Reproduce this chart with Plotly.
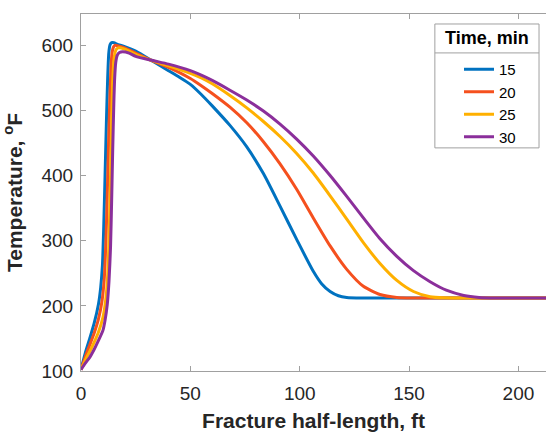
import plotly.graph_objects as go

# ---- data ----
x15 = [0, 2, 4, 6, 8, 9, 9.8, 10.4, 11, 11.6, 12.2, 12.7, 13.3, 14, 15, 17, 20, 25, 33, 40, 45, 50, 55, 60, 68.1, 75.8, 83.4, 91, 98.6, 106.2, 110, 113.9, 117.7, 121.5, 129, 150, 180, 215]
y15 = [102, 128, 150, 173, 203, 228, 262, 322, 400, 480, 550, 588, 601, 604, 604, 601, 598, 591, 575, 561, 551, 540, 524.5, 507, 477, 444, 403, 353, 302, 253, 234, 222, 215.5, 213, 212.2, 212, 212, 212]

x20 = [0, 2, 4, 6, 8, 9.5, 10.6, 11.4, 12, 12.6, 13.2, 13.7, 14.2, 14.8, 15.6, 17, 20, 25, 33, 40, 50, 55, 60, 68.1, 75.8, 83.4, 91, 98.6, 106.2, 113.9, 121.5, 129.1, 136.7, 144.4, 152, 180, 215]
y20 = [102, 122, 140, 158, 180, 205, 240, 300, 370, 450, 520, 565, 588, 597, 600, 599, 596, 588, 575.5, 566, 549, 538, 526, 505, 481, 452, 418, 379, 335, 292, 256, 230, 217.5, 213, 212.2, 212, 212]

x25 = [0, 2, 4, 6, 8, 10, 11.5, 12.4, 13.1, 13.7, 14.2, 14.7, 15.3, 16, 17, 20, 25, 33, 40, 50, 55, 60, 68.1, 75.8, 83.4, 91, 98.6, 106.2, 113.9, 121.5, 129.1, 136.7, 144.4, 152, 159.6, 166, 180, 215]
y25 = [102, 117, 130, 144, 160, 182, 215, 260, 340, 430, 510, 560, 584, 593, 596, 594, 586, 576, 568.5, 557, 550, 541, 523, 504, 483, 460, 434, 404, 369, 333, 297, 265, 239, 222, 214, 212.3, 212, 212]

x30 = [0, 2, 4, 6, 8, 10, 11, 12, 12.8, 13.5, 14, 14.5, 15, 15.4, 15.9, 16.6, 17.6, 19, 22, 25, 33, 40, 50, 55, 60, 68.1, 75.8, 83.4, 91, 98.6, 106.2, 113.9, 121.5, 129.1, 136.7, 144.4, 152, 159.6, 167, 175, 182, 190, 215]
y30 = [102, 112, 121, 133, 147, 162, 178, 202, 238, 290, 360, 440, 510, 550, 574, 585, 589, 590, 588, 583, 576.5, 571, 561, 554, 546, 531, 516, 499, 479, 456, 430, 400, 368, 335, 303, 276, 254, 237, 224, 216, 213, 212.2, 212]

series = [("15", x15, y15, "#0072C0"),
          ("20", x20, y20, "#F5501E"),
          ("25", x25, y25, "#FFB000"),
          ("30", x30, y30, "#8B2F9B")]

legend_title = "Time, min"
x_ticks = [0, 50, 100, 150, 200]
y_ticks = [100, 200, 300, 400, 500, 600]

FONT = "Liberation Sans, Arial, sans-serif"
AX = "#A0A0A0"
TXT = "#262626"

fig = go.Figure()
for name, xs, ys, col in series:
    fig.add_trace(go.Scatter(x=xs, y=ys, mode="lines", name=name,
                             line=dict(color=col, width=3, shape="spline", smoothing=0.6)))

fig.update_layout(
    width=546, height=432,
    margin=dict(l=81, r=0, t=14, b=61),
    plot_bgcolor="white", paper_bgcolor="white",
    font=dict(family=FONT, color=TXT),
    showlegend=True,
    legend=dict(
        font=dict(size=15, color="black"),
        x=(459 - 81) / 465, xanchor="left", y=(371 - 53) / 357, yanchor="top",
        borderwidth=0, bgcolor="rgba(0,0,0,0)",
        tracegroupgap=0,
    ),
    xaxis=dict(range=[0, 212.6], tickvals=x_ticks, showgrid=False, zeroline=False,
               showline=True, linecolor=AX, linewidth=1, mirror="ticks",
               ticks="inside", ticklen=5, tickcolor=AX,
               tickfont=dict(size=19, color=TXT), ticklabelstandoff=5,
               title=dict(text="<b>Fracture half-length, ft</b>", font=dict(size=21, color=TXT), standoff=10)),
    yaxis=dict(range=[100, 648], tickvals=y_ticks, showgrid=False, zeroline=False,
               showline=True, linecolor=AX, linewidth=1,
               ticks="inside", ticklen=5, tickcolor=AX,
               tickfont=dict(size=19, color=TXT), ticklabelstandoff=3,
               title=dict(text="<b>Temperature, <sup>o</sup>F</b>", font=dict(size=21, color=TXT), standoff=14)),
)

# legend frame, header separator and header text (paper coordinates)
fig.add_shape(type="rect", xref="paper", yref="paper", x0=0.761, x1=0.985, y0=0.625, y1=0.972,
              line=dict(color="#A0A0A0", width=1), fillcolor="rgba(255,255,255,0)", layer="above")
fig.add_shape(type="line", xref="paper", yref="paper", x0=0.761, x1=0.985, y0=0.891, y1=0.891,
              line=dict(color="#A0A0A0", width=1))
fig.add_annotation(text="<b>" + legend_title + "</b>", xref="paper", yref="paper",
                   x=0.873, y=0.9315, xanchor="center", yanchor="middle", showarrow=False,
                   font=dict(size=18, color="black", family=FONT))

fig.write_html("out.html")
